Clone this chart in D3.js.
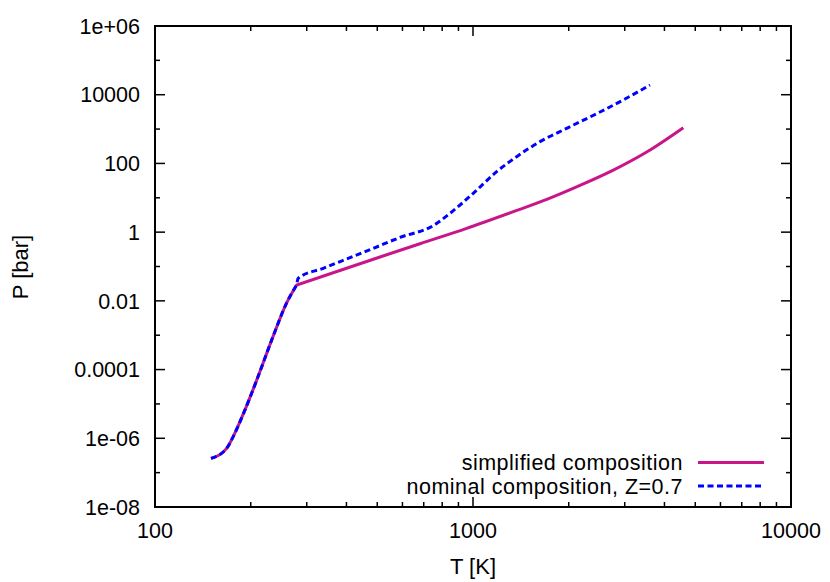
<!DOCTYPE html>
<html>
<head>
<meta charset="utf-8">
<script src="https://cdn.jsdelivr.net/npm/d3@7"></script>
<style>
  body { margin: 0; background: #fff; }
  text { font-family: "Liberation Sans", Arial, sans-serif; fill: #000; }
</style>
</head>
<body>
<script>
// temperature where both profiles bend (radiative / convective boundary)
var kinkTemp = 279;

// simplified composition
var tempSimplified = [150, 168, 176, 190, 209, 235, 259, 279, 510, 681, 955, 1339, 1706, 2170, 2762, 3517, 4585];
var presSimplified = [2.6e-7, 5.1e-7, 1.1e-6, 5.4e-6, 5.0e-5, 9.1e-4, 8.5e-3, 0.029, 0.189, 0.46, 1.29, 3.94, 9.0, 23, 64, 215, 1100];

// nominal composition, Z=0.7
var tempNominal = [150, 168, 176, 190, 209, 235, 259, 279, 282, 338, 486, 589, 750, 847, 1002, 1187, 1372, 1624, 1971, 2508, 3006, 3602];
var presNominal = [2.6e-7, 5.1e-7, 1.1e-6, 5.4e-6, 5.0e-5, 9.1e-4, 8.5e-3, 0.029, 0.0454, 0.0887, 0.339, 0.70, 1.55, 3.54, 13.5, 57.5, 157, 430, 1054, 3140, 7500, 19200];

var xTickValues = [100, 1000, 10000];
var xTickLabels = ["100", "1000", "10000"];
var yTickValues = [1e6, 1e4, 1e2, 1, 1e-2, 1e-4, 1e-6, 1e-8];
var yTickLabels = ["1e+06", "10000", "100", "1", "0.01", "0.0001", "1e-06", "1e-08"];
var seriesNames = ["simplified composition", "nominal composition, Z=0.7"];

var width = 830, height = 582;
var margin = {top: 26, right: 39, bottom: 75, left: 155};
var pw = width - margin.left - margin.right,
    ph = height - margin.top - margin.bottom;

var svg = d3.select("body").append("svg")
    .attr("width", width)
    .attr("height", height);

var g = svg.append("g")
    .attr("transform", "translate(" + margin.left + "," + margin.top + ")");

var x = d3.scaleLog().domain([100, 10000]).range([0, pw]);
var y = d3.scaleLog().domain([1e-8, 1e6]).range([ph, 0]);

// minor ticks
var xMinor = [];
[100, 1000].forEach(function(b) { for (var k = 2; k <= 9; k++) xMinor.push(b * k); });
var yMinor = [1e5, 1e3, 10, 0.1, 1e-3, 1e-5, 1e-7];

var ticks = g.append("g").attr("stroke", "#000").attr("stroke-width", 1.5);
function tick(x1, y1, x2, y2) {
  ticks.append("line").attr("x1", x1).attr("y1", y1).attr("x2", x2).attr("y2", y2);
}
xTickValues.forEach(function(v) {
  tick(x(v), ph, x(v), ph - 10);
  tick(x(v), 0, x(v), 10);
});
xMinor.forEach(function(v) {
  tick(x(v), ph, x(v), ph - 5);
  tick(x(v), 0, x(v), 5);
});
yTickValues.forEach(function(v) {
  tick(0, y(v), 10, y(v));
  tick(pw, y(v), pw - 10, y(v));
});
yMinor.forEach(function(v) {
  tick(0, y(v), 5, y(v));
  tick(pw, y(v), pw - 5, y(v));
});

// frame
g.append("rect")
    .attr("width", pw)
    .attr("height", ph)
    .attr("fill", "none")
    .attr("stroke", "#000")
    .attr("stroke-width", 2);

// tick labels
g.selectAll(".xlab")
    .data(xTickValues)
  .enter().append("text")
    .attr("x", function(d) { return x(d); })
    .attr("y", ph + 31)
    .attr("text-anchor", "middle")
    .attr("font-size", "21.5px")
    .text(function(d, i) { return xTickLabels[i]; });

g.selectAll(".ylab")
    .data(yTickValues)
  .enter().append("text")
    .attr("x", -15)
    .attr("y", function(d) { return y(d); })
    .attr("dy", "0.36em")
    .attr("text-anchor", "end")
    .attr("font-size", "21.5px")
    .text(function(d, i) { return yTickLabels[i]; });

// axis titles
svg.append("text")
    .attr("x", margin.left + pw / 2)
    .attr("y", 574)
    .attr("text-anchor", "middle")
    .attr("font-size", "22px")
    .text("T [K]");

svg.append("text")
    .attr("transform", "translate(28," + 267 + ") rotate(-90)")
    .attr("text-anchor", "middle")
    .attr("font-size", "22px")
    .text("P [bar]");

// curves: smooth on each side of the kink, sharp corner at the kink
var line = d3.line()
    .x(function(d) { return x(d[0]); })
    .y(function(d) { return y(d[1]); })
    .curve(d3.curveMonotoneX);

function kinkedPath(temps, press) {
  var pts = temps.map(function(t, i) { return [t, press[i]]; });
  var lo = pts.filter(function(p) { return p[0] <= kinkTemp; });
  var hi = pts.filter(function(p) { return p[0] >= kinkTemp; });
  return line(lo) + line(hi).replace(/^M/, "L");
}

var styles = [
  {color: "#c8168a", dash: null},
  {color: "#0000ff", dash: "6,3.5"}
];

g.append("path")
    .attr("d", kinkedPath(tempSimplified, presSimplified))
    .attr("fill", "none")
    .attr("stroke", styles[0].color)
    .attr("stroke-width", 3);

g.append("path")
    .attr("d", kinkedPath(tempNominal, presNominal))
    .attr("fill", "none")
    .attr("stroke", styles[1].color)
    .attr("stroke-width", 3)
    .attr("stroke-dasharray", styles[1].dash);

// legend
var legend = svg.append("g");
seriesNames.forEach(function(name, i) {
  var ly = 462.5 + i * 23.5;
  legend.append("text")
      .attr("x", 683)
      .attr("y", ly)
      .attr("dy", "0.36em")
      .attr("text-anchor", "end")
      .attr("font-size", "21.5px")
      .style("letter-spacing", "0.5px")
      .text(name);
  legend.append("line")
      .attr("x1", 698).attr("x2", 764)
      .attr("y1", ly).attr("y2", ly)
      .attr("stroke", styles[i].color)
      .attr("stroke-width", 3)
      .attr("stroke-dasharray", styles[i].dash);
});
</script>
</body>
</html>
